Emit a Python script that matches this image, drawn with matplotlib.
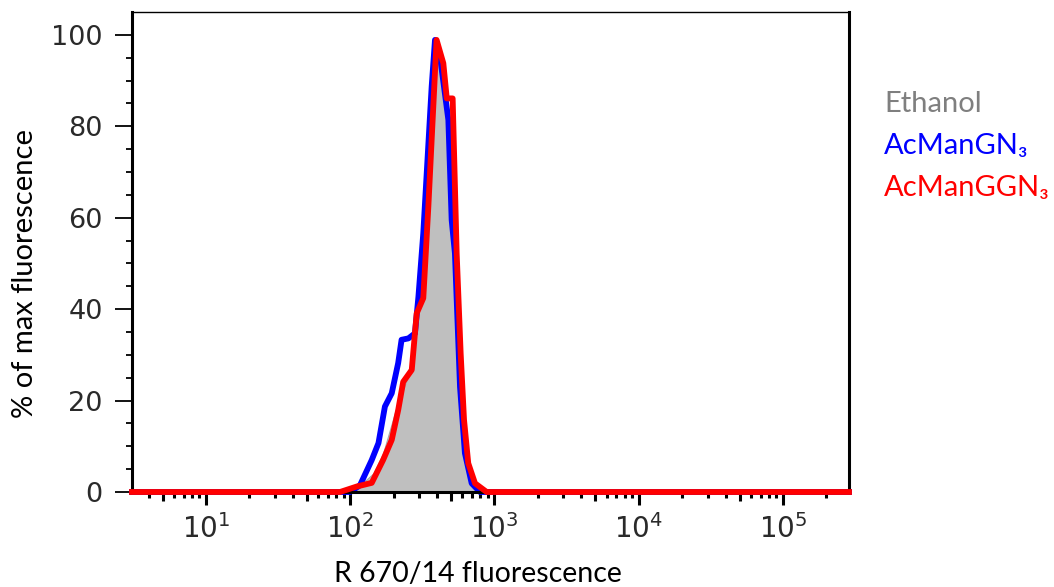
import matplotlib
matplotlib.use("Agg")
import matplotlib.pyplot as plt
from matplotlib.ticker import FixedLocator, NullFormatter, LogFormatterSciNotation

# ---- data (fluorescence intensity, % of max) ----
ethanol_x = [3.07, 95, 117, 145, 169, 210, 267, 289, 330, 377, 397, 442, 479, 518, 561, 608, 658, 753, 287000]
ethanol_y = [0, 0, 1.5, 4.1, 8.5, 18.7, 27.4, 39.0, 59.5, 90.2, 99.0, 92.3, 81.4, 52.2, 30.3, 12.1, 3.4, 0, 0]

gn3_x = [3.07, 100, 117, 141, 157, 174, 194, 215, 227, 253, 281, 297, 321, 367, 387, 419, 466, 479, 505, 532, 577, 624, 695, 794, 287000]
gn3_y = [0, 0, 1.5, 7.0, 10.7, 18.7, 21.6, 28.2, 33.3, 33.6, 34.7, 42.7, 56.6, 88.7, 98.9, 95.3, 84.3, 81.4, 59.5, 52.2, 23.0, 8.5, 1.9, 0, 0]

ggn3_x = [3.07, 85, 111, 141, 169, 194, 215, 233, 267, 289, 321, 348, 397, 442, 467, 513, 547, 583, 615, 658, 733, 883, 287000]
ggn3_y = [0, 0, 1.2, 2.0, 7.0, 11.4, 17.9, 24.1, 26.7, 39.1, 42.4, 62.4, 98.9, 93.8, 86.1, 86.1, 52.2, 30.3, 15.8, 6.3, 1.9, 0, 0]

legend_labels = ["Ethanol", "AcManGN\u2083", "AcManGGN\u2083"]
legend_colors = ["#7f7f7f", "#0000ff", "#ff0000"]

y_major = [0, 20, 40, 60, 80, 100]
x_major = [1e1, 1e2, 1e3, 1e4, 1e5]

# ---- figure ----
W, H = 1054, 587
fig = plt.figure(figsize=(W / 100, H / 100), dpi=100)
ax = fig.add_axes([132 / W, 1 - 492 / H, (849 - 132) / W, (492 - 12) / H])

ax.fill_between(ethanol_x, ethanol_y, 0, color="#bfbfbf", edgecolor="#a8a8a8", linewidth=0.8, zorder=1)
ax.plot(gn3_x, gn3_y, color="#0000ff", lw=4.2, solid_joinstyle="round", zorder=2, clip_on=False)
ax.plot(ggn3_x, ggn3_y, color="#ff0000", lw=4.2, solid_joinstyle="round", zorder=3, clip_on=False)

ax.set_xscale("log")
ax.set_xlim(3.07, 287000)
ax.set_ylim(0, 105)

# spines
for s in ["left", "right", "bottom"]:
    ax.spines[s].set_linewidth(2.2)
ax.spines["top"].set_linewidth(1.0)

# y ticks
ax.yaxis.set_major_locator(FixedLocator(y_major))
ax.yaxis.set_minor_locator(FixedLocator([v for v in range(0, 105, 5) if v % 20 != 0]))
ax.tick_params(axis="y", which="major", length=12, width=1.3, pad=9, labelsize=19.5,
               direction="out", labelcolor="#2a2a2a", labelfontfamily="DejaVu Sans")
ax.tick_params(axis="y", which="minor", length=4.5, width=1.3, direction="out")

# x ticks
minors = []
for d in range(0, 6):
    for m in [2, 3, 4, 6, 7, 8, 9]:
        v = m * 10 ** d
        if 3.07 <= v <= 287000:
            minors.append(v)
ax.xaxis.set_major_locator(FixedLocator(x_major))
ax.xaxis.set_major_formatter(LogFormatterSciNotation())
ax.xaxis.set_minor_locator(FixedLocator(minors))
ax.xaxis.set_minor_formatter(NullFormatter())
ax.tick_params(axis="x", which="major", length=9, width=2.2, pad=7, labelsize=20,
               direction="out", labelcolor="#2a2a2a", labelfontfamily="DejaVu Sans")
ax.tick_params(axis="x", which="minor", length=4, width=2.2, direction="out")

# medium ticks at 5 x 10^k
sec = ax.secondary_xaxis("bottom")
sec.set_xticks([5 * 10 ** d for d in range(0, 5)])
sec.xaxis.set_minor_locator(FixedLocator([]))
sec.set_xticklabels([])
sec.tick_params(axis="x", which="major", length=6.5, width=2.2, direction="out")
sec.spines["bottom"].set_visible(False)

# axis labels
fig.text(25 / W, 1 - 274 / H, "% of max fluorescence", rotation=90, ha="center", va="center",
         fontsize=21, family=["Lato", "DejaVu Sans"], color="black")
fig.text(478 / W, 1 - 574 / H, "R 670/14 fluorescence", ha="center", va="center",
         fontsize=20.5, family=["Lato", "DejaVu Sans"], color="black")

# legend
for i, (t, c) in enumerate(zip(legend_labels, legend_colors)):
    fig.text(884 / W, 1 - (104 + 42 * i) / H, t, ha="left", va="center", fontsize=21,
             family=["Lato", "DejaVu Sans"], color=c)

fig.savefig("out.png", dpi=100)
